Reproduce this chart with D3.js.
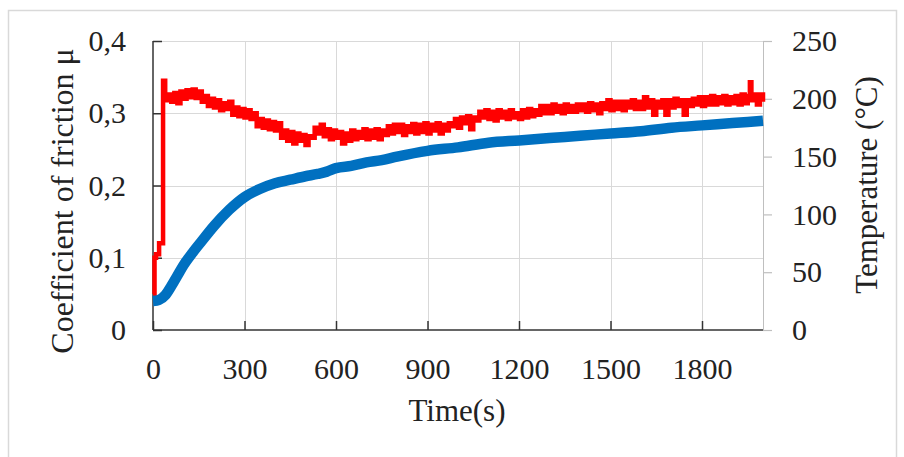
<!DOCTYPE html>
<html>
<head>
<meta charset="utf-8">
<script src="https://cdn.jsdelivr.net/npm/d3@7"></script>
<style>
  body { margin: 0; background: #fff; }
  svg { display: block; }
  text { font-family: "Liberation Serif", "Times New Roman", serif; fill: #222; }
</style>
</head>
<body>
<div id="chart"></div>
<script>
// ---- data ----
var timeTicks = [0, 300, 600, 900, 1200, 1500, 1800];
var muTicks = [0, 0.1, 0.2, 0.3, 0.4];
var tempTicks = [0, 50, 100, 150, 200, 250];

// friction coefficient (left axis), [time s, mu] - noisy stepped signal
var friction = [
  [0, 0.050], [5, 0.100], [10, 0.105], [20, 0.120], [33, 0.345], [40, 0.318],
  [50, .326], [60, .316], [70, .328], [80, .314], [90, .330], [100, .320], [110, .332], [120, .322], [130, .333], [140, .321],
  [150, .330], [160, .316], [170, .324], [180, .310], [190, .320], [200, .308], [210, .318], [220, .304], [230, .314], [240, .306],
  [250, .316], [260, .298], [270, .308], [280, .296], [290, .306], [300, .294], [310, .304], [320, .292], [330, .300], [340, .282],
  [350, .292], [360, .280], [370, .290], [380, .278], [390, .288], [400, .276], [410, .286], [420, .266], [430, .276], [440, .262],
  [450, .274], [460, .258], [470, .272], [480, .262], [490, .270], [500, .256], [510, .268], [520, .266], [530, .280], [540, .272],
  [550, .284], [560, .268], [570, .278], [580, .264], [590, .276], [600, .266], [610, .274], [620, .258], [630, .272], [640, .262],
  [650, .276], [660, .264], [670, .274], [680, .266], [690, .278], [700, .264], [710, .276], [720, .266], [730, .278], [740, .264],
  [750, .276], [760, .270], [770, .282], [780, .272], [790, .284], [800, .274], [810, .284], [820, .270], [830, .282], [840, .274],
  [850, .285], [860, .272], [870, .284], [880, .274], [890, .286], [900, .272], [910, .284], [920, .276], [930, .286], [940, .272],
  [950, .284], [960, .276], [970, .286], [980, .282], [990, .292], [1000, .280], [1010, .294], [1020, .286], [1030, .296], [1040, .278],
  [1050, .294], [1060, .290], [1070, .302], [1080, .294], [1090, .304], [1100, .292], [1110, .302], [1120, .290], [1130, .304], [1140, .294],
  [1150, .302], [1160, .292], [1170, .304], [1180, .294], [1190, .300], [1200, .292], [1210, .304], [1220, .294], [1230, .306], [1240, .296],
  [1250, .304], [1260, .298], [1270, .310], [1280, .300], [1290, .310], [1300, .300], [1310, .312], [1320, .302], [1330, .310], [1340, .300],
  [1350, .312], [1360, .302], [1370, .310], [1380, .302], [1390, .312], [1400, .304], [1410, .312], [1420, .302], [1430, .314], [1440, .304],
  [1450, .312], [1460, .300], [1470, .314], [1480, .306], [1490, .318], [1500, .304], [1510, .316], [1520, .306], [1530, .316], [1540, .304],
  [1550, .316], [1560, .308], [1570, .318], [1580, .306], [1590, .316], [1600, .306], [1610, .322], [1620, .308], [1630, .318], [1640, .298],
  [1650, .316], [1660, .308], [1670, .318], [1680, .298], [1690, .318], [1700, .308], [1710, .320], [1720, .310], [1730, .318], [1740, .298],
  [1750, .318], [1760, .310], [1770, .320], [1780, .312], [1790, .322], [1800, .310], [1810, .322], [1820, .312], [1830, .324], [1840, .312],
  [1850, .322], [1860, .314], [1870, .324], [1880, .312], [1890, .322], [1900, .314], [1910, .324], [1920, .312], [1930, .326], [1940, .314],
  [1950, .324], [1957, .343], [1962, .318], [1970, .326], [1980, .312], [1990, .326], [2000, .316]
];

// temperature (right axis), [time s, degC]
var temperature = [
  [0, 25], [20, 26], [40, 30], [60, 38], [80, 47], [100, 56], [130, 67], [160, 77],
  [200, 90], [250, 104], [300, 115], [350, 122], [400, 127], [450, 130], [500, 133],
  [540, 135], [570, 137], [600, 140], [650, 142], [700, 145], [750, 147], [800, 150],
  [900, 155], [1000, 158], [1100, 162], [1200, 164], [1300, 166], [1400, 168],
  [1500, 170], [1600, 172], [1700, 175], [1800, 177], [1900, 179], [2000, 181]
];

// ---- layout ----
var width = 904, height = 457;
var plotLeft = 153, plotRight = 763, plotTop = 41, plotBottom = 330;

var svg = d3.select("#chart").append("svg")
  .attr("width", width).attr("height", height);

// outer frame
svg.append("rect")
  .attr("x", 8.5).attr("y", 10.5)
  .attr("width", 888).attr("height", 460)
  .attr("fill", "none").attr("stroke", "#d9d9d9").attr("stroke-width", 1.5);

var x = d3.scaleLinear().domain([0, 2000]).range([plotLeft, plotRight]);
var yMu = d3.scaleLinear().domain([0, 0.4]).range([plotBottom, plotTop]);
var yT = d3.scaleLinear().domain([0, 250]).range([plotBottom, plotTop]);

// grid
svg.append("g").selectAll("line").data(timeTicks.slice(1)).join("line")
  .attr("x1", d => Math.round(x(d)) + 0.5).attr("x2", d => Math.round(x(d)) + 0.5)
  .attr("y1", plotTop).attr("y2", plotBottom)
  .attr("stroke", "#d9d9d9").attr("stroke-width", 1);
svg.append("g").selectAll("line").data(muTicks.slice(1)).join("line")
  .attr("x1", plotLeft).attr("x2", plotRight)
  .attr("y1", d => Math.round(yMu(d)) + 0.5).attr("y2", d => Math.round(yMu(d)) + 0.5)
  .attr("stroke", "#d9d9d9").attr("stroke-width", 1);

// right axis line (grey)
svg.append("line")
  .attr("x1", plotRight + 0.5).attr("x2", plotRight + 0.5)
  .attr("y1", plotTop).attr("y2", plotBottom)
  .attr("stroke", "#bfbfbf");

var commaFmt = function (d) {
  return d === 0 ? "0" : d.toFixed(1).replace(".", ",");
};

// left axis
svg.append("g").attr("transform", "translate(" + plotLeft + ",0)")
  .call(d3.axisLeft(yMu).tickValues(muTicks).tickFormat(commaFmt).tickSize(-9).tickPadding(27))
  .call(g => g.select(".domain").remove())
  .call(g => g.selectAll("line").attr("stroke", "#333").attr("stroke-width", 1.5))
  .call(g => g.selectAll("text").style("font-size", "30px").attr("fill", "#222")
    .attr("font-family", "Liberation Serif"));

// right axis
svg.append("g").attr("transform", "translate(" + plotRight + ",0)")
  .call(d3.axisRight(yT).tickValues(tempTicks).tickSize(9).tickPadding(20))
  .call(g => g.select(".domain").remove())
  .call(g => g.selectAll("line").attr("stroke", "#bfbfbf").attr("stroke-width", 1.2))
  .call(g => g.selectAll("text").style("font-size", "30px").attr("fill", "#222")
    .attr("font-family", "Liberation Serif"));

// bottom axis
svg.append("g").attr("transform", "translate(0," + plotBottom + ")")
  .call(d3.axisBottom(x).tickValues(timeTicks).tickFormat(d3.format("d")).tickSize(-9).tickPadding(28))
  .call(g => g.select(".domain").remove())
  .call(g => g.selectAll("line").attr("stroke", "#333").attr("stroke-width", 1.5))
  .call(g => g.selectAll("text").style("font-size", "30px").attr("fill", "#222")
    .attr("font-family", "Liberation Serif"));

// axis lines
svg.append("line")
  .attr("x1", plotLeft).attr("x2", plotLeft).attr("y1", plotTop).attr("y2", plotBottom)
  .attr("stroke", "#333").attr("stroke-width", 1.5);
svg.append("line")
  .attr("x1", plotLeft).attr("x2", plotRight).attr("y1", plotBottom).attr("y2", plotBottom)
  .attr("stroke", "#333").attr("stroke-width", 1.5);

// series
var muLine = d3.line()
  .x(d => x(d[0])).y(d => yMu(d[1]))
  .curve(d3.curveStepAfter);
var tLine = d3.line()
  .x(d => x(d[0])).y(d => yT(d[1]))
  .curve(d3.curveMonotoneX);

svg.append("path").attr("d", muLine(friction))
  .attr("fill", "none").attr("stroke", "#ff0000").attr("stroke-width", 4.5)
  .attr("stroke-linejoin", "miter");

svg.append("path").attr("d", tLine(temperature))
  .attr("fill", "none").attr("stroke", "#0070c0").attr("stroke-width", 10.5)
  .attr("stroke-linecap", "butt");

// axis titles
svg.append("text")
  .attr("transform", "translate(73,201) rotate(-90)")
  .attr("text-anchor", "middle")
  .style("font-size", "32px")
  .text("Coefficient of friction μ");

svg.append("text")
  .attr("transform", "translate(877,185) rotate(-90)")
  .attr("text-anchor", "middle")
  .style("font-size", "31px")
  .text("Temperature (°C)");

svg.append("text")
  .attr("x", 457).attr("y", 421)
  .attr("text-anchor", "middle")
  .style("font-size", "31px")
  .text("Time(s)");
</script>
</body>
</html>
